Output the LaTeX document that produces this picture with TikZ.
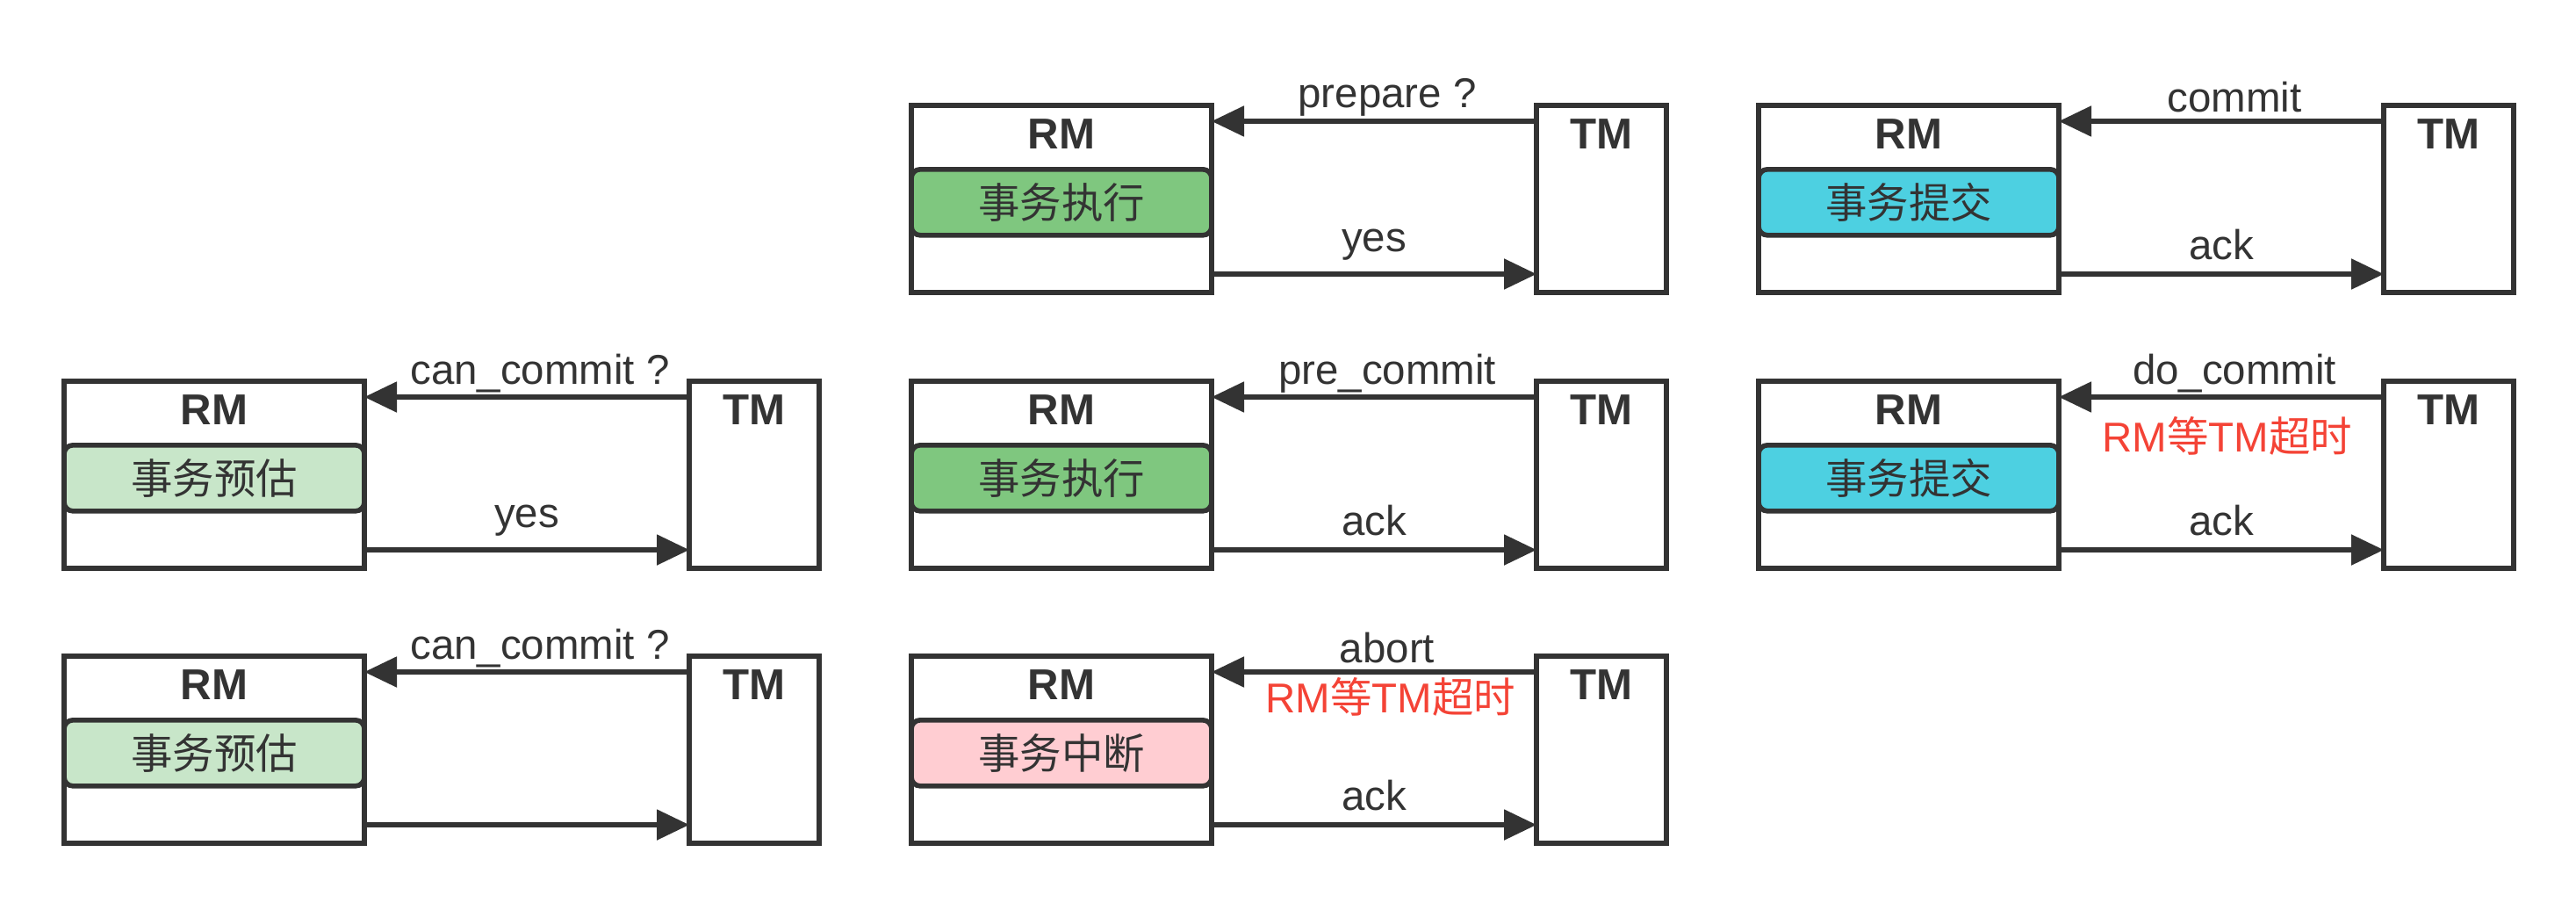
\documentclass[tikz,border=0pt]{standalone}
\usepackage{fontspec}
\setmainfont{Liberation Sans}
\newfontfamily\cjk{Noto Sans CJK SC}
\usepackage{tikz}
\usetikzlibrary{positioning,arrows.meta,calc}
\definecolor{inkgray}{HTML}{333333}
\definecolor{estgreen}{HTML}{C8E6C9}
\definecolor{execgreen}{HTML}{7FC77F}
\definecolor{commitcyan}{HTML}{4DD0E1}
\definecolor{abortpink}{HTML}{FFCDD2}
\definecolor{alertred}{HTML}{F44336}

\begin{document}
\begin{tikzpicture}[
    font=\fontsize{13.5}{16}\selectfont, text=inkgray,
    party/.style={draw=inkgray, line width=1.6pt, anchor=north west, minimum height=2.13cm, inner sep=0pt, outer sep=0pt},
    rmbox/.style={party, minimum width=3.42cm},
    tmbox/.style={party, minimum width=1.48cm},
    role/.style={inner sep=0pt, font=\fontsize{14}{16}\selectfont\bfseries},
    statebox/.style={draw=inkgray, line width=1.6pt, rounded corners=0.1cm, minimum width=3.42cm, minimum height=0.75cm, anchor=north, inner sep=0pt, font=\fontsize{13.5}{16}\selectfont\cjk},
    msg/.style={-{Triangle[length=0.37cm, width=0.34cm]}, draw=inkgray, line width=1.5pt},
    lbl/.style={inner sep=0pt},
    timeout/.style={inner sep=0pt, text=alertred}
]
\useasboundingbox (0,0) rectangle (29.34,10.35);

% one RM/TM exchange per panel
\foreach \n/\x/\y/\tint/\st/\req/\resp in {
    A2/0.73/6.01/estgreen/事务预估/can\_commit ?/yes,
    A3/0.73/2.88/estgreen/事务预估/can\_commit ?/,
    B1/10.38/9.15/execgreen/事务执行/prepare ?/yes,
    B2/10.38/6.01/execgreen/事务执行/pre\_commit/ack,
    B3/10.38/2.88/abortpink/事务中断/abort/ack,
    C1/20.03/9.15/commitcyan/事务提交/commit/ack,
    C2/20.03/6.01/commitcyan/事务提交/do\_commit/ack}
{
    \node[rmbox] (rm\n) at (\x,\y) {};
    \node[tmbox] (tm\n) at (\x+7.12,\y) {};
    \node[role] (rmt\n) at ([yshift=-0.33cm]rm\n.north) {RM};
    \node[role] (tmt\n) at ([yshift=-0.33cm]tm\n.north) {TM};
    \node[statebox, fill=\tint] (st\n) at ([yshift=-0.70cm]rm\n.north) {\st};
    \draw[msg] ([yshift=-0.18cm]tm\n.north west) -- ([yshift=-0.18cm]rm\n.north east)
        node[lbl, midway, yshift=0.27cm, xshift=0.15cm] {\req};
    \draw[msg] ([yshift=0.21cm]rm\n.south east) -- ([yshift=0.21cm]tm\n.south west)
        node[lbl, midway, yshift=0.33cm] {\resp};
}

% timeout notes
\node[timeout] (waitC2) at ($(rmC2.north east)!0.5!(tmC2.north west)+(0.07,-0.62)$) {RM{\cjk 等}TM{\cjk 超时}};
\node[timeout] (waitB3) at ($(rmB3.north east)!0.5!(tmB3.north west)+(0.19,-0.46)$) {RM{\cjk 等}TM{\cjk 超时}};

\end{tikzpicture}
\end{document}
